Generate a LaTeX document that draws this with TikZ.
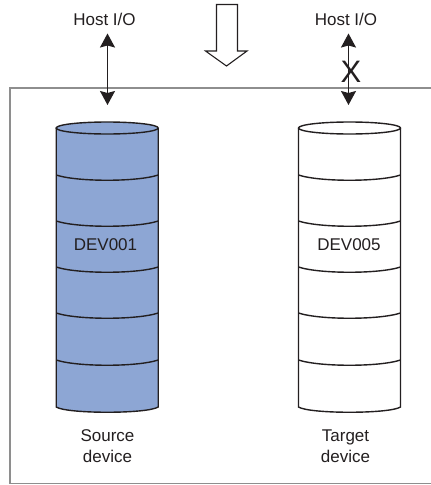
\documentclass[tikz,border=0pt]{standalone}
\usepackage{fontspec}
\setmainfont{Liberation Sans}
\usetikzlibrary{arrows.meta}
\definecolor{ink}{HTML}{231F20}
\definecolor{diskblue}{HTML}{8DA6D4}
\definecolor{framegrey}{HTML}{8E8E8E}
\tikzset{
  lbl/.style={font=\fontsize{17}{21}\selectfont,text=ink,align=center,inner sep=0pt},
  hostio/.style={ink,line width=1.3pt,{Stealth[length=14pt,width=15pt,inset=2pt]}-{Stealth[length=14pt,width=15pt,inset=2pt]}},
  diskline/.style={ink,line width=1.4pt}
}
\newcommand{\diskdraw}[2]{%
  \fill[#2] (#1-51,128) -- (#1-51,407) .. controls (#1-40,414) and (#1+40,414) .. (#1+51,407) -- (#1+51,128) -- cycle;
  \draw[diskline] (#1-51,128) -- (#1-51,407) .. controls (#1-40,414) and (#1+40,414) .. (#1+51,407) -- (#1+51,128);
  \foreach \yy in {175,221,267,313,360}{
    \draw[diskline] (#1-51,\yy) .. controls (#1-30,\yy+7) and (#1+30,\yy+7) .. (#1+51,\yy);
  }
  \draw[diskline,fill=#2] (#1,128) ellipse [x radius=51,y radius=6];
}
\begin{document}
\begin{tikzpicture}[x=1pt,y=-1pt]
\useasboundingbox (0,0) rectangle (431,485);
\fill[white] (0,0) rectangle (431,485);
\draw[framegrey,line width=1.5pt] (432,88) -- (10,88) -- (10,483.5) -- (432,483.5);
\draw[ink,line width=1.1pt,fill=white] (216.5,4.5) -- (237.5,4.5) -- (237.5,51) -- (247,51) -- (226.5,66) -- (205.5,51) -- (216.5,51) -- cycle;
\diskdraw{107.2}{diskblue}
\diskdraw{349.5}{white}
\node[lbl] (hostL) at (104.5,19) {Host I/O};
\node[lbl] (hostR) at (346,19) {Host I/O};
\coordinate (portL) at (107.5,105);
\coordinate (portR) at (348.5,105);
\coordinate (topL) at (107.5,33.5);
\coordinate (topR) at (348.5,33.5);
\draw[hostio] (topL) -- (portL);
\draw[hostio] (topR) -- (portR);
\node[font=\fontsize{31}{31}\selectfont,text=ink,inner sep=0pt] (block) at (351,72) {X};
\node[lbl] (devL) at (105.5,244.5) {DEV001};
\node[lbl] (devR) at (349,244.5) {DEV005};
\node[lbl] (srcL) at (107.5,446) {Source\\device};
\node[lbl] (tgtL) at (345.5,446) {Target\\device};
\end{tikzpicture}
\end{document}
